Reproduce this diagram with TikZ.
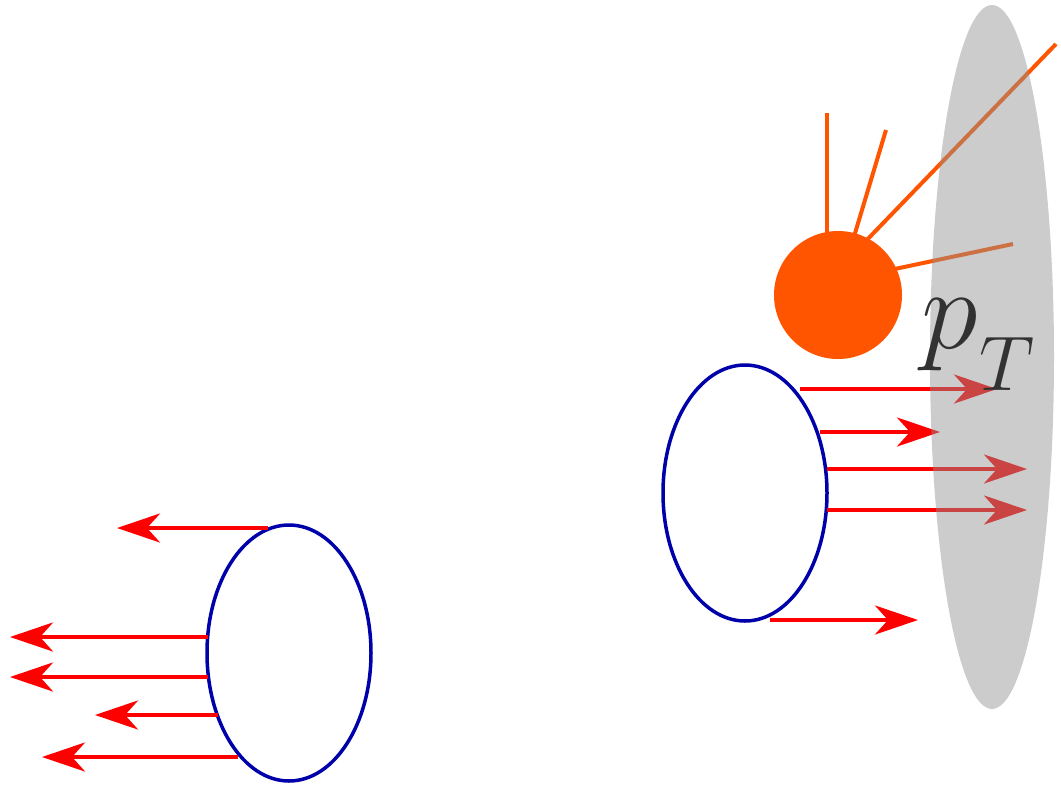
\documentclass[tikz,border=0pt]{standalone}
\usepackage{graphicx}
\usetikzlibrary{arrows.meta,shapes.geometric}
\definecolor{ringblue}{RGB}{0,0,170}
\definecolor{jetorange}{RGB}{255,85,0}
\definecolor{shadegray}{RGB}{146,146,146}
\definecolor{labelgray}{RGB}{50,50,50}
\begin{document}
\begin{tikzpicture}[x=1pt,y=-1pt,
  ring/.style={draw=ringblue,line width=3.5pt,ellipse,minimum width=164pt,minimum height=256pt,inner sep=0pt},
  parton/.style={draw=red,line width=4pt,-{Stealth[length=43pt,width=29pt,inset=13pt]}},
  jetline/.style={draw=jetorange,line width=4pt},
  blob/.style={circle,fill=jetorange,minimum size=128pt,inner sep=0pt},
  shade/.style={ellipse,fill=shadegray,fill opacity=0.47,minimum width=124pt,minimum height=704pt,inner sep=0pt}]
\useasboundingbox (0,0) rectangle (1061,788);
% left ring
\node[ring] (L) at (289,653) {};
\coordinate (l1s) at (268,528); \coordinate (l1e) at (117,528);
\coordinate (l2s) at (208,637); \coordinate (l2e) at (10,637);
\coordinate (l3s) at (208,677); \coordinate (l3e) at (10,677);
\coordinate (l4s) at (218,715); \coordinate (l4e) at (95,715);
\coordinate (l5s) at (238,757); \coordinate (l5e) at (42,757);
\draw[parton] (l1s) -- (l1e);
\draw[parton] (l2s) -- (l2e);
\draw[parton] (l3s) -- (l3e);
\draw[parton] (l4s) -- (l4e);
\draw[parton] (l5s) -- (l5e);
% right ring
\node[ring] (R) at (745,493) {};
\coordinate (r1s) at (800,389); \coordinate (r1e) at (997,389);
\coordinate (r2s) at (820,432); \coordinate (r2e) at (940,432);
\coordinate (r3s) at (827,469); \coordinate (r3e) at (1027,469);
\coordinate (r4s) at (827,510); \coordinate (r4e) at (1027,510);
\coordinate (r5s) at (770,620); \coordinate (r5e) at (918,620);
\draw[parton] (r1s) -- (r1e);
\draw[parton] (r2s) -- (r2e);
\draw[parton] (r3s) -- (r3e);
\draw[parton] (r4s) -- (r4e);
\draw[parton] (r5s) -- (r5e);
% jet
\coordinate (j1) at (827,113);
\coordinate (j2) at (886,130);
\coordinate (j3) at (1056,44);
\coordinate (j4) at (1013,244);
\coordinate (b1) at (827,240);
\coordinate (b2) at (853,240);
\coordinate (b3) at (862,245);
\coordinate (b4) at (890,270);
\draw[jetline] (b1) -- (j1);
\draw[jetline] (b2) -- (j2);
\draw[jetline] (b3) -- (j3);
\draw[jetline] (b4) -- (j4);
\node[blob] (B) at (838,295) {};
% shaded region
\node[shade] (S) at (992,357) {};
\node[anchor=base west,inner sep=0pt,text=labelgray] (pt) at (921,348)
  {\scalebox{4.62}{\Huge$p$}\hspace{2pt}\raisebox{-42pt}{\scalebox{3.12}{\Huge$T$}}};
\end{tikzpicture}
\end{document}
